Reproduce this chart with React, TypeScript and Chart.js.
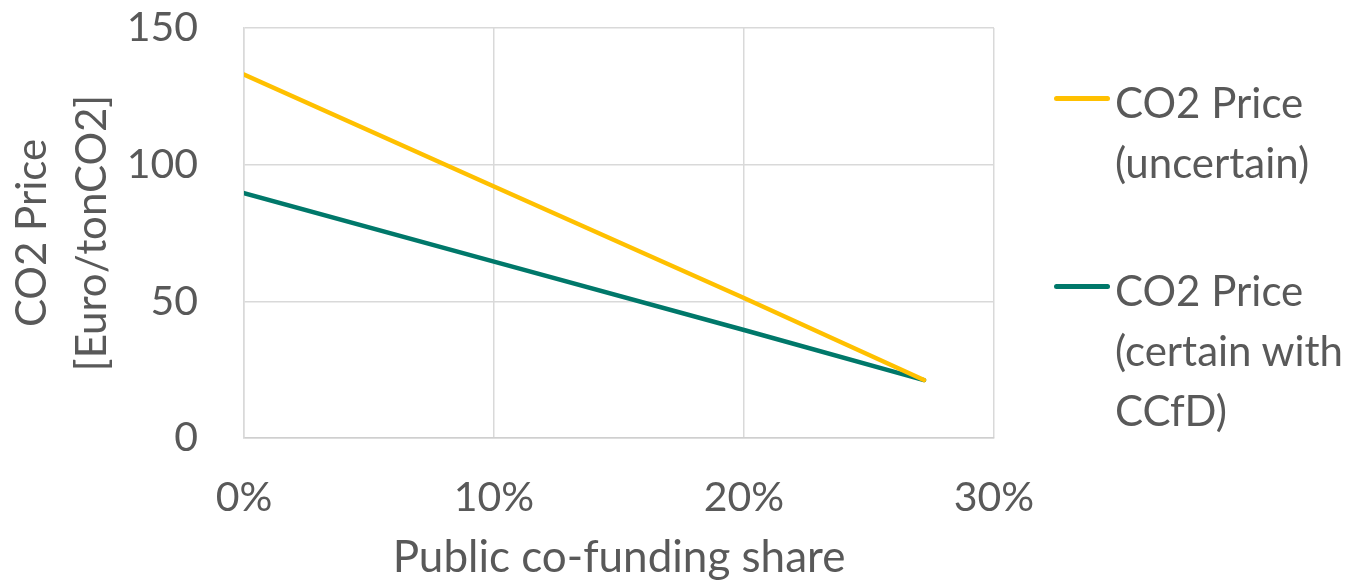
import React, { useEffect, useRef } from "react";
import { Chart, registerables } from "chart.js";

Chart.register(...registerables);

// ---- data ----
const xShare = [0, 10, 20, 27.2]; // public co-funding share, %
const priceUncertain = [133, 92, 51.2, 21.2];
const priceCertain = [89.6, 64.5, 39.5, 21.2];
const seriesNames = [
  ["CO2 Price", "(uncertain)"],
  ["CO2 Price", "(certain with", "CCfD)"],
];
const seriesColors = ["#FFC000", "#00786A"];
const xTickValues = [0, 10, 20, 30];
const yTickValues = [0, 50, 100, 150];
const xTitle = "Public co-funding share";
const yTitle = ["CO2 Price", "[Euro/tonCO2]"];

const FONT = "Lato, 'Noto Sans', sans-serif";
const TEXT = "#595959";
const GRID = "#D9D9D9";

export default function App() {
  const ref = useRef<HTMLCanvasElement | null>(null);

  useEffect(() => {
    document.body.style.margin = "0";
    const canvas = ref.current;
    if (!canvas) return;
    const toPts = (ys: number[]) => xShare.map((x, i) => ({ x, y: ys[i] }));
    const chart = new Chart(canvas, {
      type: "line",
      data: {
        datasets: [
          {
            label: seriesNames[0].join(" "),
            data: toPts(priceUncertain),
            borderColor: seriesColors[0],
            backgroundColor: seriesColors[0],
            borderWidth: 4.5,
            pointRadius: 0,
            borderCapStyle: "round",
            tension: 0,
          },
          {
            label: seriesNames[1].join(" "),
            data: toPts(priceCertain),
            borderColor: seriesColors[1],
            backgroundColor: seriesColors[1],
            borderWidth: 4.5,
            pointRadius: 0,
            borderCapStyle: "round",
            tension: 0,
          },
        ],
      },
      options: {
        responsive: false,
        animation: false,
        layout: { padding: { left: 0, right: 374, top: 28, bottom: 0 } },
        plugins: { legend: { display: false }, tooltip: { enabled: false } },
        scales: {
          x: {
            type: "linear",
            min: 0,
            max: 30,
            afterBuildTicks: (s: any) => {
              s.ticks = xTickValues.map((v) => ({ value: v }));
            },
            afterFit: (s: any) => {
              s.height = 143;
              s.paddingLeft = 0;
              s.paddingRight = 0;
            },
            grid: { color: GRID, lineWidth: 1.5, drawTicks: false },
            border: { color: "#CFCFCF", width: 1.5 },
            ticks: {
              padding: 35,
              color: TEXT,
              font: { family: FONT, size: 41 },
              callback: (v: any) => v + "%",
            },
            title: {
              display: true,
              text: xTitle,
              color: TEXT,
              font: { family: FONT, size: 44, lineHeight: 1.05 },
              padding: { top: 0, bottom: 0 },
            },
          },
          y: {
            min: 0,
            max: 150,
            afterBuildTicks: (s: any) => {
              s.ticks = yTickValues.map((v) => ({ value: v }));
            },
            afterFit: (s: any) => {
              s.width = 244;
              s.paddingTop = 0;
              s.paddingBottom = 0;
            },
            grid: { color: GRID, lineWidth: 1.5, drawTicks: false },
            border: { color: GRID, width: 1.5 },
            ticks: {
              padding: 46,
              color: TEXT,
              font: { family: FONT, size: 41 },
            },
            title: {
              display: true,
              text: yTitle,
              color: TEXT,
              font: { family: FONT, size: 42, lineHeight: "60px" },
              padding: { top: 2, bottom: 0 },
            },
          },
        },
      },
    });
    return () => chart.destroy();
  }, []);

  const legendTops = [72, 260];
  const markerTops = [96, 284];

  return (
    <div style={{ position: "relative", width: 1368, height: 581, background: "#fff" }}>
      <canvas ref={ref} width={1368} height={581} style={{ width: 1368, height: 581, display: "block" }} />
      {seriesNames.map((lines, i) => (
        <div key={i}>
          <div
            style={{
              position: "absolute",
              left: 1054,
              top: markerTops[i],
              width: 56,
              height: 5,
              borderRadius: 2.5,
              background: seriesColors[i],
            }}
          />
          <div
            style={{
              position: "absolute",
              left: 1115,
              top: legendTops[i],
              fontFamily: FONT,
              fontSize: 42,
              lineHeight: "60px",
              color: TEXT,
              whiteSpace: "nowrap",
            }}
          >
            {lines.map((l, j) => (
              <div key={j}>{l}</div>
            ))}
          </div>
        </div>
      ))}
    </div>
  );
}
